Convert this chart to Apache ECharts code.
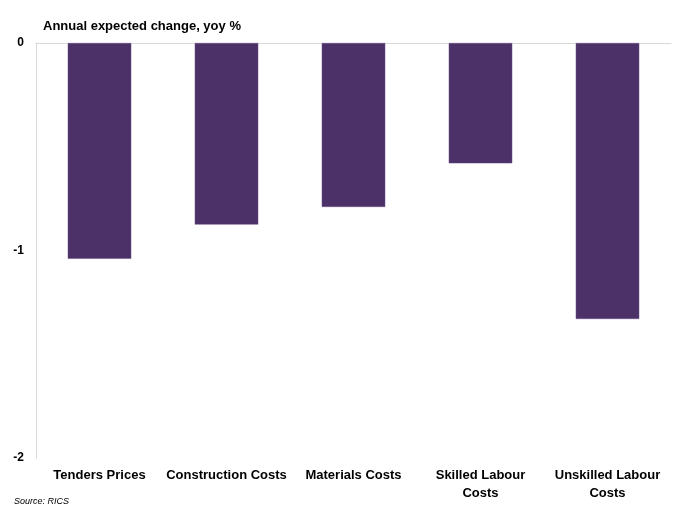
<!DOCTYPE html>
<html>
<head>
<meta charset="utf-8">
<script src="https://cdn.jsdelivr.net/npm/echarts@6/dist/echarts.min.js"></script>
<style>
  html, body { margin: 0; padding: 0; background: #ffffff; }
  #chart { width: 677px; height: 506px; }
</style>
</head>
<body>
<div id="chart"></div>
<script>
// Expected annual change by cost component, yoy %
const categories = ['Tenders Prices', 'Construction Costs', 'Materials Costs', 'Skilled Labour\nCosts', 'Unskilled Labour\nCosts'];
const values = [-1.04, -0.875, -0.79, -0.58, -1.33];
const yTicks = [-2, -1, 0];

const font = 'Liberation Sans, Arial, sans-serif';
const chart = echarts.init(document.getElementById('chart'));

chart.setOption({
  animation: false,
  backgroundColor: '#ffffff',
  title: [
    {
      text: 'Annual expected change, yoy %',
      left: 38, top: 15, padding: 5,
      textStyle: { fontFamily: font, fontSize: 13, fontWeight: 'bold', color: '#000' }
    },
    {
      text: 'Source: RICS',
      left: 14, top: 497, padding: 0,
      textStyle: { fontFamily: font, fontSize: 9, fontStyle: 'italic', fontWeight: 'normal', color: '#000' }
    }
  ],
  grid: { left: 36, right: 6, top: 43, bottom: 48 },
  xAxis: [
    {
      type: 'category',
      data: categories,
      position: 'bottom',
      axisLine: { show: false, onZero: false },
      axisTick: { show: false },
      axisLabel: {
        interval: 0, margin: 8, lineHeight: 18,
        fontFamily: font, fontSize: 13, fontWeight: 'bold', color: '#000'
      }
    },
    {
      // zero line along the top of the plot
      type: 'category',
      data: categories,
      position: 'top',
      axisLine: { show: true, onZero: false, lineStyle: { color: '#d9d9d9', width: 1 } },
      axisTick: { show: false },
      axisLabel: { show: false }
    }
  ],
  yAxis: {
    type: 'value',
    min: yTicks[0], max: yTicks[yTicks.length - 1], interval: 1,
    axisLine: { show: true, lineStyle: { color: '#d9d9d9', width: 1 } },
    axisTick: { show: false },
    splitLine: { show: false },
    axisLabel: { margin: 12, fontFamily: font, fontSize: 12, fontWeight: 'bold', color: '#000' }
  },
  series: [{
    type: 'bar',
    data: values,
    xAxisIndex: 0,
    barWidth: '50%',
    itemStyle: { color: '#4c3068', borderColor: '#6a5288', borderWidth: 0.5 }
  }]
});
</script>
</body>
</html>
